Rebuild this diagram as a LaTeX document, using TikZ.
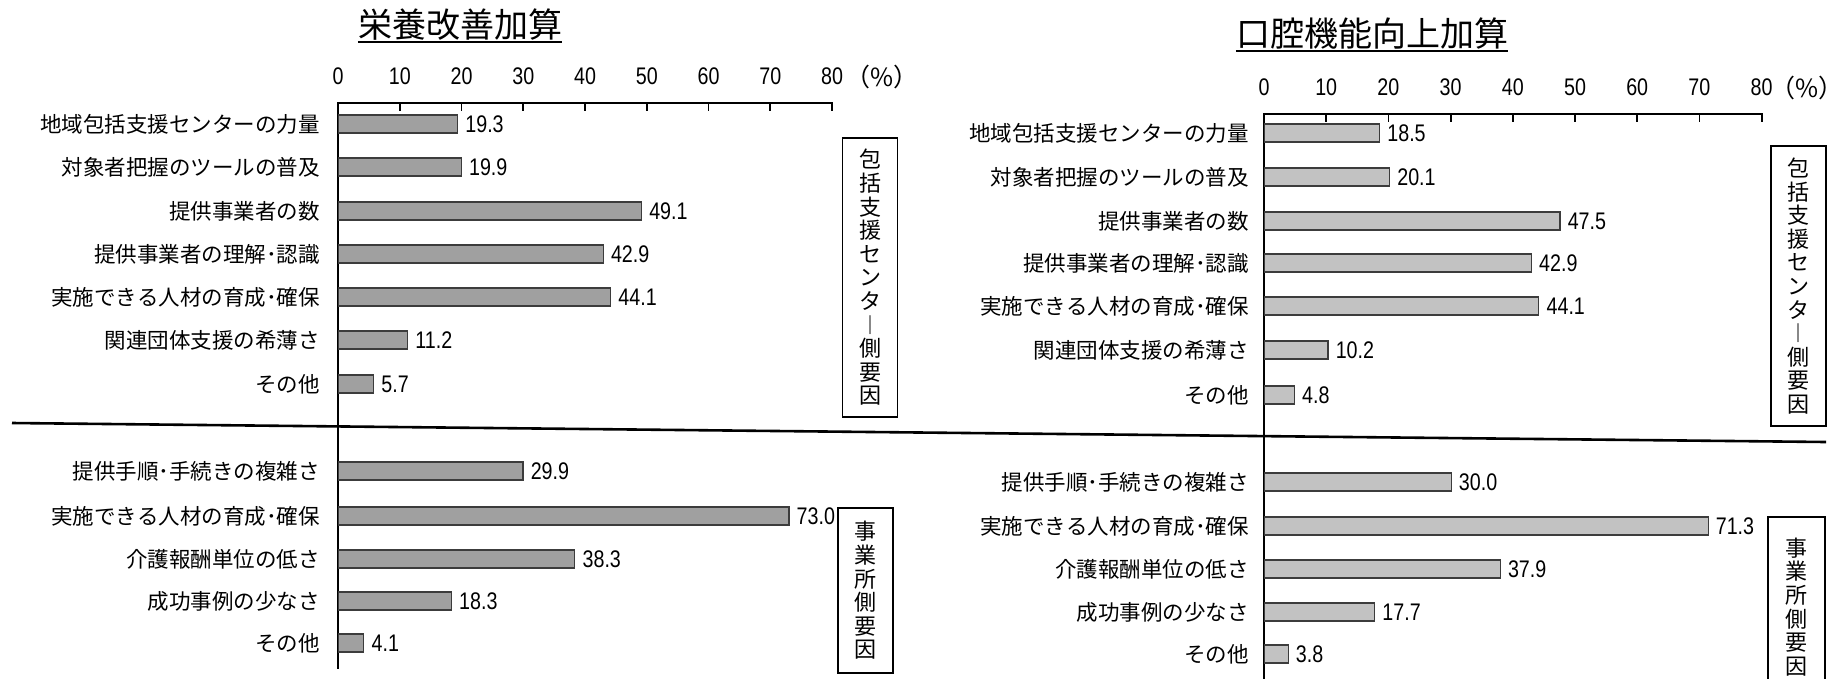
\documentclass[tikz,border=0pt]{standalone}
\usepackage{fontspec}
\newfontfamily\jp{Noto Sans CJK JP}
\newfontfamily\numf[FakeStretch=0.82]{Liberation Sans}
\definecolor{barfillL}{RGB}{160,160,160}
\definecolor{barfillR}{RGB}{194,194,194}
\definecolor{barline}{RGB}{60,60,60}
\tikzset{
  cat/.style={anchor=east, inner sep=0pt, font=\jp\fontsize{21.5}{24}\selectfont},
  val/.style={anchor=west, inner sep=0pt, font=\numf\fontsize{24}{26}\selectfont},
  ticklab/.style={anchor=center, inner sep=0pt, font=\numf\fontsize{24}{26}\selectfont},
  pct/.style={anchor=center, inner sep=0pt, font=\jp\fontsize{25}{28}\selectfont},
  barL/.style={draw=barline, line width=1.1pt, fill=barfillL, minimum height=18pt, inner sep=0pt, anchor=west},
  barR/.style={draw=barline, line width=1.1pt, fill=barfillR, minimum height=18pt, inner sep=0pt, anchor=west},
  axisline/.style={line width=2.2pt, line cap=rect},
  tickmark/.style={line width=1.8pt},
  sidebox/.style={draw, line width=1.8pt, inner sep=0pt, align=center, font=\jp\fontsize{22}{23.6}\selectfont},
  ttl/.style={anchor=base, inner sep=0pt, font=\jp\fontsize{34}{38}\selectfont},
}
% name, x0, y, value, scale, style, label x, label
\newcommand\mkbar[8]{%
  \node[#6, minimum width=#4*#5pt] (#1) at (#2,#3) {};
  \node[val] (#1v) at ([xshift=7pt]#1.east) {#4};
  \node[cat] (#1c) at (#7,#3) {#8};
}
\begin{document}
\begin{tikzpicture}[x=1pt,y=-1pt]
\clip (0,0) rectangle (1847,678);
\useasboundingbox (0,0) rectangle (1847,678);
\fill[white] (0,0) rectangle (1847,678);

% ---------- titles ----------
\node[ttl] (T1) at (460,37) {栄養改善加算};
\draw[line width=1.6pt] ([yshift=-5pt]T1.base west) -- ([yshift=-5pt]T1.base east);
\node[ttl] (T2) at (1372,46) {口腔機能向上加算};
\draw[line width=1.6pt] ([yshift=-5pt]T2.base west) -- ([yshift=-5pt]T2.base east);

% ---------- left axis ----------
\coordinate (LO) at (338,103);
\coordinate (LE) at (832,103);
\coordinate (LB) at (338,668);
\draw[axisline] (LO) -- (LE);
\draw[axisline] (LO) -- (LB);
\foreach \i in {1,...,8} {
  \draw[tickmark] ([xshift=\i*61.75pt]LO) -- ++(0,8);
}
\foreach \i in {0,...,8} {
  \pgfmathtruncatemacro\t{\i*10}
  \node[ticklab] (lt\i) at ([xshift=\i*61.75pt, yshift=27pt]LO) {\t};
}
\node[pct] (lpct) at ([xshift=50pt, yshift=-1pt]lt8) {（\%）};

% ---------- right axis ----------
\coordinate (RO) at (1264,114);
\coordinate (RE) at (1762,114);
\coordinate (RB) at (1264,690);
\draw[axisline] (RO) -- (RE);
\draw[axisline] (RO) -- (RB);
\foreach \i in {1,...,8} {
  \draw[tickmark] ([xshift=\i*62.2pt]RO) -- ++(0,8);
}
\foreach \i in {0,...,8} {
  \pgfmathtruncatemacro\t{\i*10}
  \node[ticklab] (rt\i) at ([xshift=\i*62.2pt, yshift=27pt]RO) {\t};
}
\node[pct] (rpct) at ([xshift=45pt, yshift=-1pt]rt8) {（\%）};

% ---------- separator ----------
\coordinate (S1) at (12,423);
\coordinate (S2) at (1826,442);
\draw[line width=2.6pt] (S1) -- (S2);

% ---------- left bars ----------
\mkbar{a1}{338}{124}{19.3}{6.17}{barL}{320}{地域包括支援センターの力量}
\mkbar{a2}{338}{167}{19.9}{6.17}{barL}{320}{対象者把握のツールの普及}
\mkbar{a3}{338}{211}{49.1}{6.17}{barL}{320}{提供事業者の数}
\mkbar{a4}{338}{254}{42.9}{6.17}{barL}{320}{提供事業者の理解･認識}
\mkbar{a5}{338}{297}{44.1}{6.17}{barL}{320}{実施できる人材の育成･確保}
\mkbar{a6}{338}{340}{11.2}{6.17}{barL}{320}{関連団体支援の希薄さ}
\mkbar{a7}{338}{384}{5.7}{6.17}{barL}{320}{その他}
\mkbar{b1}{338}{471}{29.9}{6.17}{barL}{320}{提供手順･手続きの複雑さ}
\mkbar{b2}{338}{516}{73.0}{6.17}{barL}{320}{実施できる人材の育成･確保}
\mkbar{b3}{338}{559}{38.3}{6.17}{barL}{320}{介護報酬単位の低さ}
\mkbar{b4}{338}{601}{18.3}{6.17}{barL}{320}{成功事例の少なさ}
\mkbar{b5}{338}{643}{4.1}{6.17}{barL}{320}{その他}

% ---------- right bars ----------
\mkbar{c1}{1264}{133}{18.5}{6.22}{barR}{1249}{地域包括支援センターの力量}
\mkbar{c2}{1264}{177}{20.1}{6.22}{barR}{1249}{対象者把握のツールの普及}
\mkbar{c3}{1264}{221}{47.5}{6.22}{barR}{1249}{提供事業者の数}
\mkbar{c4}{1264}{263}{42.9}{6.22}{barR}{1249}{提供事業者の理解･認識}
\mkbar{c5}{1264}{306}{44.1}{6.22}{barR}{1249}{実施できる人材の育成･確保}
\mkbar{c6}{1264}{350}{10.2}{6.22}{barR}{1249}{関連団体支援の希薄さ}
\mkbar{c7}{1264}{395}{4.8}{6.22}{barR}{1249}{その他}
\mkbar{d1}{1264}{482}{30.0}{6.22}{barR}{1249}{提供手順･手続きの複雑さ}
\mkbar{d2}{1264}{526}{71.3}{6.22}{barR}{1249}{実施できる人材の育成･確保}
\mkbar{d3}{1264}{569}{37.9}{6.22}{barR}{1249}{介護報酬単位の低さ}
\mkbar{d4}{1264}{612}{17.7}{6.22}{barR}{1249}{成功事例の少なさ}
\mkbar{d5}{1264}{654}{3.8}{6.22}{barR}{1249}{その他}

% ---------- side boxes ----------
\node[sidebox, minimum width=55pt, minimum height=279pt] (LB1) at (870,277.5)
  {包\\括\\支\\援\\セ\\ン\\タ\\︱\\側\\要\\因};
\node[sidebox, minimum width=55pt, minimum height=165pt] (LB2) at (865.5,590.5)
  {事\\業\\所\\側\\要\\因};
\node[sidebox, minimum width=55pt, minimum height=280pt] (RB1) at (1798.5,286)
  {包\\括\\支\\援\\セ\\ン\\タ\\︱\\側\\要\\因};
\node[sidebox, minimum width=57pt, minimum height=180pt] (RB2) at (1796.5,607)
  {事\\業\\所\\側\\要\\因};
\end{tikzpicture}
\end{document}
